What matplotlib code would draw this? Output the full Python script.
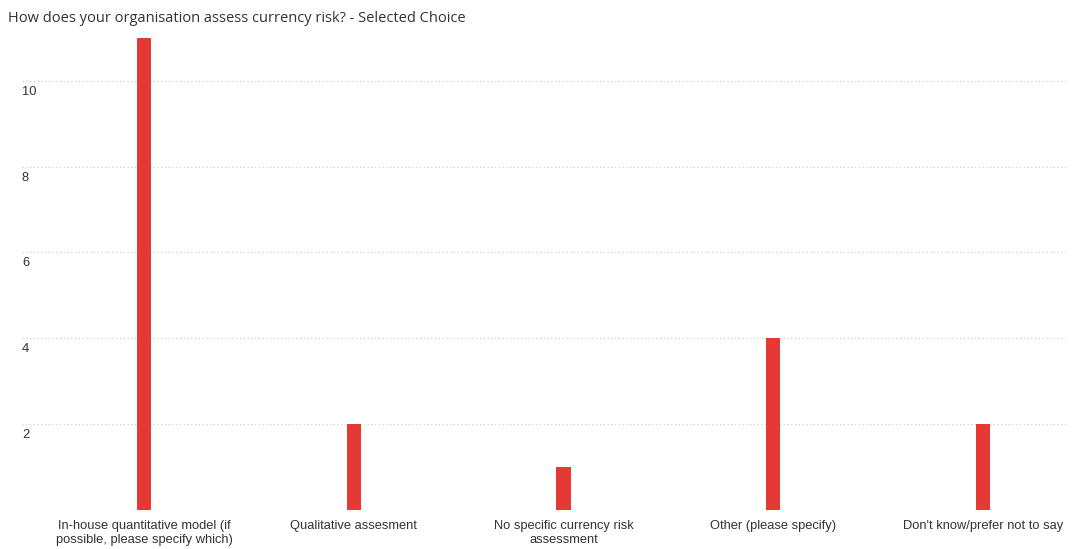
import matplotlib.pyplot as plt
import matplotlib.transforms as mtransforms

# Survey answers and counts
categories = [
    "In-house quantitative model (if\npossible, please specify which)",
    "Qualitative assesment",
    "No specific currency risk\nassessment",
    "Other (please specify)",
    "Don't know/prefer not to say",
]
counts = [11, 2, 1, 4, 2]
y_ticks = [2, 4, 6, 8, 10]

title = "How does your organisation assess currency risk? - Selected Choice"

fig = plt.figure(figsize=(10.76, 5.49), dpi=100)
ax = fig.add_axes([22 / 1076, (549 - 509.75) / 549, 1044 / 1076, 471.75 / 549])

ax.bar(range(len(counts)), counts, width=0.068, color='#e53935', zorder=3)

ax.set_xlim(-0.582, 4.396)
ax.set_ylim(0, 11)

# Dotted light grid lines, including the baseline
for v in [0] + y_ticks:
    ax.axhline(v, color='#d0d0d0', linestyle=(0, (1, 2)), linewidth=0.9, zorder=1)

for s in ax.spines.values():
    s.set_visible(False)
ax.set_yticks([])
ax.set_xticks([])

# Y labels sit just under their grid lines
trans = mtransforms.offset_copy(ax.get_yaxis_transform(), fig=fig, x=0, y=-5, units='dots')
for v in y_ticks:
    ax.text(0.0, v, str(v), transform=trans, ha='left', va='top',
            fontsize=9.3, color='#333333', family='Liberation Sans')

# Category labels under the baseline
xtrans = mtransforms.offset_copy(ax.get_xaxis_transform(), fig=fig, x=0, y=-10, units='dots')
for i, c in enumerate(categories):
    ax.text(i, 0, c, transform=xtrans, ha='center', va='top', fontsize=9.3,
            color='#333333', family='Liberation Sans', linespacing=1.25)

fig.text(8 / 1076, 1 - 18 / 549, title, ha='left', va='center', fontsize=10.5,
         color='#333333', family='Open Sans')

fig.savefig('out.png', dpi=100)
